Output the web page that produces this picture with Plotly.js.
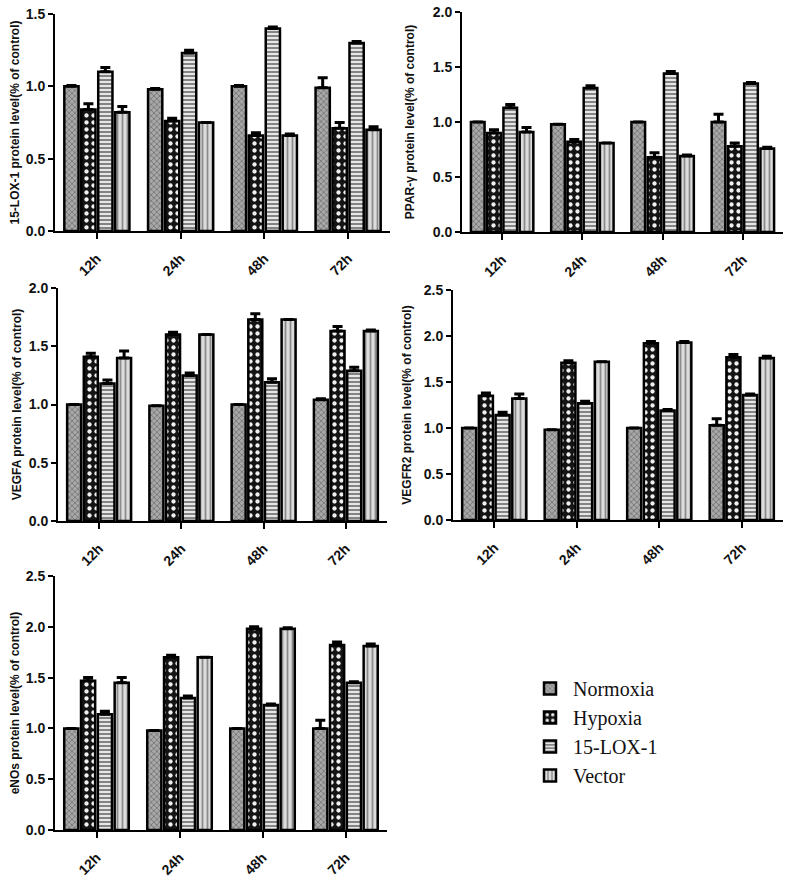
<!DOCTYPE html>
<html>
<head>
<meta charset="utf-8">
<script src="https://cdn.plot.ly/plotly-3.0.1.min.js"></script>
<style>html,body{margin:0;padding:0;background:#fff;}#chart{width:790px;height:879px;}</style>
</head>
<body>
<div id="chart"></div>
<script>
const timepoints = ['12h', '24h', '48h', '72h'];
const groupNames = ['Normoxia', 'Hypoxia', '15-LOX-1', 'Vector'];

// Panel 1: 15-LOX-1
const lox_normoxia = [1.00, 0.98, 1.00, 0.99];
const lox_hypoxia  = [0.84, 0.76, 0.66, 0.71];
const lox_lox      = [1.10, 1.23, 1.40, 1.30];
const lox_vector   = [0.82, 0.75, 0.66, 0.70];
const lox_normoxia_err = [0.005, 0.005, 0.005, 0.07];
const lox_hypoxia_err  = [0.04, 0.02, 0.02, 0.04];
const lox_lox_err      = [0.03, 0.02, 0.01, 0.01];
const lox_vector_err   = [0.04, 0.0, 0.01, 0.02];

// Panel 2: PPAR-γ
const ppar_normoxia = [1.00, 0.98, 1.00, 1.00];
const ppar_hypoxia  = [0.90, 0.82, 0.68, 0.78];
const ppar_lox      = [1.13, 1.31, 1.44, 1.35];
const ppar_vector   = [0.91, 0.81, 0.69, 0.76];
const ppar_normoxia_err = [0.0, 0.0, 0.0, 0.07];
const ppar_hypoxia_err  = [0.03, 0.02, 0.04, 0.03];
const ppar_lox_err      = [0.03, 0.02, 0.02, 0.01];
const ppar_vector_err   = [0.04, 0.0, 0.01, 0.01];

// Panel 3: VEGFA
const vegfa_normoxia = [1.00, 0.99, 1.00, 1.04];
const vegfa_hypoxia  = [1.41, 1.60, 1.73, 1.63];
const vegfa_lox      = [1.18, 1.25, 1.19, 1.29];
const vegfa_vector   = [1.40, 1.60, 1.73, 1.63];
const vegfa_normoxia_err = [0.0, 0.0, 0.0, 0.01];
const vegfa_hypoxia_err  = [0.03, 0.02, 0.05, 0.04];
const vegfa_lox_err      = [0.03, 0.02, 0.03, 0.03];
const vegfa_vector_err   = [0.06, 0.0, 0.0, 0.01];

// Panel 4: VEGFR2
const vegfr2_normoxia = [1.00, 0.98, 1.00, 1.03];
const vegfr2_hypoxia  = [1.35, 1.71, 1.92, 1.77];
const vegfr2_lox      = [1.14, 1.27, 1.19, 1.36];
const vegfr2_vector   = [1.32, 1.72, 1.93, 1.76];
const vegfr2_normoxia_err = [0.0, 0.0, 0.0, 0.07];
const vegfr2_hypoxia_err  = [0.03, 0.02, 0.02, 0.03];
const vegfr2_lox_err      = [0.03, 0.02, 0.01, 0.01];
const vegfr2_vector_err   = [0.05, 0.0, 0.01, 0.02];

// Panel 5: eNOs
const enos_normoxia = [1.00, 0.98, 1.00, 1.00];
const enos_hypoxia  = [1.47, 1.70, 1.98, 1.82];
const enos_lox      = [1.14, 1.30, 1.23, 1.45];
const enos_vector   = [1.45, 1.70, 1.98, 1.81];
const enos_normoxia_err = [0.0, 0.0, 0.0, 0.08];
const enos_hypoxia_err  = [0.03, 0.02, 0.02, 0.03];
const enos_lox_err      = [0.03, 0.02, 0.01, 0.01];
const enos_vector_err   = [0.05, 0.0, 0.01, 0.02];

const yTitles = [
  '15-LOX-1 protein level(% of control)',
  'PPAR-γ protein level(% of control)',
  'VEGFA protein level(% of control)',
  'VEGFR2 protein level(% of control)',
  'eNOs protein level(% of control)'
];
const yMax = [1.5, 2.0, 2.0, 2.5, 2.5];

const panels = [
  [[lox_normoxia, lox_normoxia_err], [lox_hypoxia, lox_hypoxia_err], [lox_lox, lox_lox_err], [lox_vector, lox_vector_err]],
  [[ppar_normoxia, ppar_normoxia_err], [ppar_hypoxia, ppar_hypoxia_err], [ppar_lox, ppar_lox_err], [ppar_vector, ppar_vector_err]],
  [[vegfa_normoxia, vegfa_normoxia_err], [vegfa_hypoxia, vegfa_hypoxia_err], [vegfa_lox, vegfa_lox_err], [vegfa_vector, vegfa_vector_err]],
  [[vegfr2_normoxia, vegfr2_normoxia_err], [vegfr2_hypoxia, vegfr2_hypoxia_err], [vegfr2_lox, vegfr2_lox_err], [vegfr2_vector, vegfr2_vector_err]],
  [[enos_normoxia, enos_normoxia_err], [enos_hypoxia, enos_hypoxia_err], [enos_lox, enos_lox_err], [enos_vector, enos_vector_err]]
];

const patterns = [
  {shape: 'x', fgcolor: '#666666', bgcolor: '#a8a8a8', size: 4, solidity: 0.3},
  {shape: '.', fgcolor: '#f0f0f0', bgcolor: '#141414', size: 7, solidity: 0.3},
  {shape: '-', fgcolor: '#5a5a5a', bgcolor: '#e6e6e6', size: 4, solidity: 0.35},
  {shape: '|', fgcolor: '#8a8a8a', bgcolor: '#dcdcdc', size: 5, solidity: 0.35}
];

// plot-area boxes in pixels -> paper
const W = 790, H = 879;
const boxes = [
  {x0: 55, x1: 390, yb: 231, yt: 14, standoff: 4},
  {x0: 462, x1: 783, yb: 232, yt: 12, standoff: 16},
  {x0: 58, x1: 387, yb: 521, yt: 288, standoff: 5},
  {x0: 453, x1: 783, yb: 520, yt: 290, standoff: 10},
  {x0: 55, x1: 387, yb: 830, yt: 576, standoff: 4}
];

const data = [];
const layout = {
  width: W, height: H,
  margin: {l: 0, r: 0, t: 0, b: 0},
  paper_bgcolor: '#fff', plot_bgcolor: '#fff',
  barmode: 'group', bargap: 0.19, bargroupgap: 0.16,
  showlegend: true,
  legend: {
    x: 527 / W, y: 1 - 669 / H, xanchor: 'left', yanchor: 'top',
    font: {family: 'Liberation Serif, Times New Roman, serif', size: 20, color: '#111'},
    bgcolor: 'rgba(0,0,0,0)', tracegroupgap: 0, itemwidth: 36
  },
  font: {family: 'Liberation Sans, Arial, sans-serif', color: '#111'}
};

panels.forEach((panel, p) => {
  const suffix = p === 0 ? '' : String(p + 1);
  const b = boxes[p];
  panel.forEach((series, g) => {
    data.push({
      type: 'bar',
      name: groupNames[g],
      x: timepoints,
      y: series[0],
      xaxis: 'x' + suffix,
      yaxis: 'y' + suffix,
      showlegend: p === 0,
      legendgroup: groupNames[g],
      marker: {
        color: patterns[g].bgcolor,
        line: {color: '#000', width: 2.5},
        pattern: patterns[g]
      },
      error_y: {
        type: 'data', array: series[1], symmetric: false,
        arrayminus: series[1].map(() => 0),
        color: '#000', thickness: 3, width: 5
      }
    });
  });
  layout['xaxis' + suffix] = {
    domain: [b.x0 / W, b.x1 / W],
    anchor: 'y' + suffix,
    range: [-0.5, 3.5],
    showline: true, linecolor: '#000', linewidth: 2,
    ticks: 'outside', ticklen: 6, tickwidth: 2, tickcolor: '#000',
    tickangle: -45, ticklabelstandoff: 6,
    tickfont: {family: 'Liberation Sans, Arial, sans-serif', size: 14, color: '#111', weight: 'bold'},
    showgrid: false, zeroline: false, fixedrange: true
  };
  layout['yaxis' + suffix] = {
    domain: [1 - b.yb / H, 1 - b.yt / H],
    anchor: 'x' + suffix,
    range: [0, yMax[p]],
    dtick: 0.5, tick0: 0, tickformat: '.1f',
    showline: true, linecolor: '#000', linewidth: 2,
    ticks: 'outside', ticklen: 5, tickwidth: 2, tickcolor: '#000',
    tickfont: {family: 'Liberation Sans, Arial, sans-serif', size: 14, color: '#111', weight: 'bold'},
    title: {text: yTitles[p], font: {family: 'Liberation Sans, Arial, sans-serif', size: 12, color: '#111', weight: 'bold'}, standoff: b.standoff},
    showgrid: false, zeroline: false, fixedrange: true
  };
});

Plotly.newPlot('chart', data, layout, {staticPlot: true, displayModeBar: false});
</script>
</body>
</html>
